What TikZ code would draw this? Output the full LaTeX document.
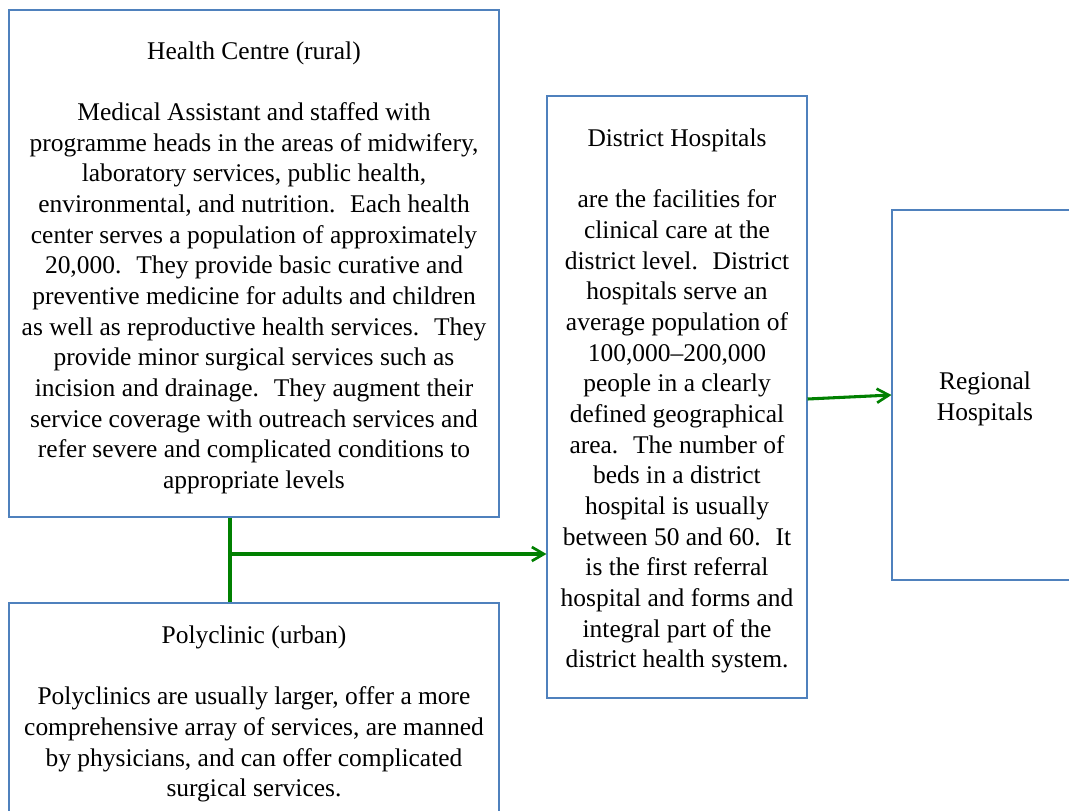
\documentclass[tikz,border=0pt]{standalone}
\usepackage{fontspec}
\setmainfont{Liberation Serif}
\usetikzlibrary{arrows.meta}
\definecolor{boxblue}{RGB}{79,129,189}
\definecolor{linkgreen}{RGB}{0,128,0}
\newcommand{\mytopstrut}{\rule{0pt}{19.5pt}}
\tikzset{
  infobox/.style={draw=boxblue, line width=0.8pt, fill=white, align=center, inner sep=0pt,
    font=\fontsize{19.1}{23}\selectfont},
  link/.style={draw=linkgreen, line width=2.3pt},
  linkarrow/.style={link, -{Straight Barb[length=9pt,width=10.5pt,line width=2pt]}}
}
\begin{document}
\begin{tikzpicture}[x=0.75pt,y=-0.75pt]
\useasboundingbox (0,0) rectangle (1069,810);
\node[infobox, minimum width=490*0.75pt, minimum height=507*0.75pt] (hc) at (254,263.5)
 {\mytopstrut Health Centre (rural)\\[23pt]
  Medical Assistant and staffed with\\
  programme heads in the areas of midwifery,\\
  laboratory services, public health,\\
  environmental, and nutrition.~ Each health\\
  center serves a population of approximately\\
  20,000.~ They provide basic curative and\\
  preventive medicine for adults and children\\
  as well as reproductive health services.~ They\\
  provide minor surgical services such as\\
  incision and drainage.~ They augment their\\
  service coverage with outreach services and\\
  refer severe and complicated conditions to\\
  appropriate levels};
\node[infobox, minimum width=490*0.75pt, minimum height=214*0.75pt] (pc) at (254,710)
 {\mytopstrut Polyclinic (urban)\\[23pt]
  Polyclinics are usually larger, offer a more\\
  comprehensive array of services, are manned\\
  by physicians, and can offer complicated\\
  surgical services.};
\node[infobox, minimum width=260*0.75pt, minimum height=602*0.75pt] (dh) at (677,397)
 {\mytopstrut District Hospitals\\[23pt]
  are the facilities for\\
  clinical care at the\\
  district level.~ District\\
  hospitals serve an\\
  average population of\\
  100,000–200,000\\
  people in a clearly\\
  defined geographical\\
  area.~ The number of\\
  beds in a district\\
  hospital is usually\\
  between 50 and 60.~ It\\
  is the first referral\\
  hospital and forms and\\
  integral part of the\\
  district health system.};
\node[infobox, minimum width=186*0.75pt, minimum height=370*0.75pt] (rh) at (985,395)
 {\mytopstrut Regional\\Hospitals};
\coordinate (j) at (230,554);
\draw[link] (j |- hc.south) -- (j |- pc.north);
\draw[linkarrow] (j) -- (j -| dh.west);
\draw[linkarrow] ([yshift=-1.5pt]dh.east) -- (rh.west);
\end{tikzpicture}
\end{document}
